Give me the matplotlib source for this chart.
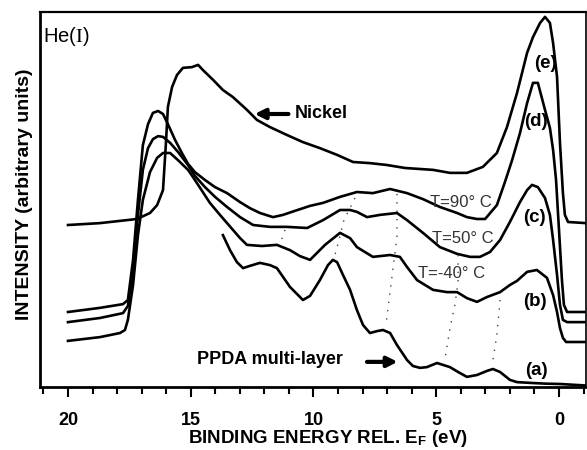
import matplotlib
matplotlib.use("Agg")
import matplotlib.pyplot as plt

plt.rcParams['font.family'] = ['Liberation Sans', 'DejaVu Sans']
plt.rcParams['mathtext.fontset'] = 'stix'

# ---- spectra: binding energy (eV) vs intensity (arbitrary units) ----
nickel_E = [20.0, 18.70, 17.19, 16.66, 16.37, 16.13, 16.01, 15.93, 15.76, 15.56, 15.32,
            14.95, 14.70, 14.50, 14.09, 13.69, 13.28, 12.71, 12.30, 11.77, 11.08, 10.43,
            9.74, 9.04, 8.39, 7.70, 7.01, 6.27, 5.13, 4.44, 3.75, 3.10, 2.53, 2.12, 1.71,
            1.30, 1.06, 0.77, 0.57, 0.37, 0.24, 0.08, -0.04, -0.16, -0.24, -0.37, -1.10]
nickel_I = [43.2, 43.7, 44.8, 46.4, 48.5, 52.5, 65.1, 74.7, 80.0, 83.2, 85.1,
            85.3, 85.9, 84.5, 81.9, 79.2, 77.3, 73.9, 71.2, 69.3, 67.2, 65.3,
            63.7, 61.9, 60.0, 59.7, 59.2, 58.4, 57.9, 57.1, 57.1, 58.7, 62.4, 69.3, 78.4,
            89.1, 93.3, 97.1, 98.7, 97.1, 91.7, 82.7, 65.1, 51.7, 45.9, 44.0, 43.7]

t90_E = [20.0, 18.70, 17.76, 17.56, 17.35, 17.15, 16.95, 16.74, 16.54, 16.33, 16.13,
         15.93, 15.64, 15.36, 15.11, 14.83, 14.42, 14.01, 13.52, 12.99, 12.59, 12.18,
         11.65, 11.24, 10.88, 10.14, 9.61, 8.92, 8.23, 7.58, 6.88, 6.19, 5.54, 4.85,
         4.15, 3.75, 3.34, 3.01, 2.53, 2.20, 1.91, 1.59, 1.30, 1.06, 0.86, 0.57, 0.37,
         0.24, 0.12, 0.00, -0.12, -0.20, -0.33, -1.10]
t90_I = [20.0, 21.1, 22.1, 23.2, 33.9, 49.9, 64.5, 70.1, 73.1, 73.6, 72.8,
         70.1, 65.9, 62.4, 59.5, 57.3, 55.2, 53.3, 51.7, 49.3, 47.7, 46.4,
         45.3, 45.9, 46.7, 48.3, 49.1, 50.7, 52.0, 51.7, 52.8, 51.7, 50.1, 48.0,
         46.4, 45.3, 44.8, 44.8, 48.5, 54.7, 60.5, 67.7, 75.7, 81.1, 81.1, 73.9, 69.1,
         63.2, 55.2, 41.9, 28.5, 21.9, 20.0, 20.0]

t50_E = [20.0, 18.70, 17.76, 17.56, 17.35, 17.15, 16.95, 16.74, 16.54, 16.33, 16.13,
         15.84, 15.52, 15.11, 14.83, 14.42, 14.01, 13.52, 12.99, 12.46, 11.77, 11.08,
         10.26, 9.61, 8.92, 8.51, 8.23, 7.82, 7.29, 6.60, 6.19, 5.54, 4.85, 4.15, 3.62,
         3.22, 2.81, 2.40, 2.00, 1.59, 1.30, 1.10, 0.86, 0.57, 0.37, 0.24, 0.08, -0.04,
         -0.16, -0.33, -1.10]
t50_I = [17.3, 18.4, 19.7, 21.6, 31.2, 45.9, 57.9, 63.7, 66.1, 66.9, 66.7,
         65.1, 62.7, 59.2, 56.3, 53.3, 50.7, 48.0, 45.3, 43.2, 42.7, 42.7,
         42.4, 44.5, 47.2, 47.2, 46.7, 45.3, 45.9, 46.4, 44.5, 41.1, 37.3, 35.5, 34.7,
         34.7, 36.0, 39.2, 44.0, 49.3, 52.5, 53.9, 53.3, 50.4, 45.9, 39.2, 29.9, 21.9,
         17.9, 17.3, 17.3]

tm40_E = [20.0, 18.70, 17.88, 17.68, 17.56, 17.35, 17.15, 16.95, 16.66, 16.37, 16.13,
          15.84, 15.52, 15.11, 14.91, 14.62, 14.22, 13.81, 13.52, 12.99, 12.71, 12.10,
          11.49, 10.96, 10.55, 10.14, 9.53, 8.92, 8.51, 8.23, 7.58, 6.88, 6.48, 6.19,
          5.78, 5.13, 4.56, 4.15, 3.75, 3.34, 2.93, 2.40, 2.00, 1.71, 1.30, 0.90, 0.49,
          0.24, 0.08, -0.04, -0.16, -0.29, -1.10]
tm40_I = [12.3, 13.3, 14.4, 15.2, 17.9, 27.2, 40.5, 49.9, 57.3, 61.1, 62.4,
          62.4, 60.5, 57.9, 56.0, 53.1, 49.1, 45.9, 43.7, 39.7, 37.9, 37.6,
          37.9, 36.5, 34.9, 33.9, 37.9, 41.1, 39.7, 37.3, 34.7, 35.2, 34.7, 32.0,
          28.5, 25.9, 25.3, 25.3, 23.7, 22.7, 24.0, 25.3, 27.2, 28.3, 30.7, 31.2, 29.1,
          24.5, 20.0, 15.7, 13.1, 12.0, 12.0]

multi_E = [13.69, 13.40, 13.12, 12.87, 12.59, 12.18, 11.77, 11.49, 10.96, 10.43, 10.14,
           9.74, 9.41, 9.21, 9.04, 8.80, 8.51, 8.23, 7.98, 7.70, 7.41, 7.17, 6.88, 6.60,
           6.19, 5.95, 5.66, 5.38, 4.97, 4.44, 4.11, 3.75, 3.34, 2.93, 2.69, 2.40, 2.00,
           1.71, 1.18, 0.57, -0.04, -1.10]
multi_I = [40.5, 36.5, 33.3, 31.7, 32.3, 33.1, 32.5, 31.7, 26.7, 23.2, 24.3,
           28.5, 32.5, 33.9, 33.3, 29.9, 25.9, 20.5, 16.5, 14.4, 14.9, 15.2, 14.4, 11.2,
           7.2, 5.6, 5.1, 5.3, 6.4, 5.3, 4.0, 2.7, 3.2, 4.3, 4.8, 4.0, 1.9,
           1.3, 1.1, 0.9, 0.8, 0.4]

# dotted guides following the features from curve to curve
guides = [
    ([8.31, 8.76, 8.96, 9.16], [50.4, 44.5, 39.2, 34.4]),
    ([6.60, 6.60, 6.76, 7.05], [51.5, 40.0, 31.7, 16.5]),
    ([4.11, 4.11, 4.24, 4.44, 4.64], [35.2, 28.0, 21.9, 15.7, 7.7]),
    ([2.40, 2.53, 2.69], [23.2, 13.9, 7.2]),
    ([11.16, 11.36], [41.9, 38.1]),
]

major_ticks = [20, 15, 10, 5, 0]
major_labels = ['20', '15', '10', '5', '0']
minor_ticks = list(range(21, -2, -1))

fig = plt.figure(figsize=(5.87, 4.50), dpi=100)
ax = fig.add_axes([40 / 587, 63 / 450, 546 / 587, 375 / 450])

lw = 1.9
for E, I in [(nickel_E, nickel_I), (t90_E, t90_I), (t50_E, t50_I),
             (tm40_E, tm40_I), (multi_E, multi_I)]:
    ax.plot(E, I, color='black', lw=lw, solid_joinstyle='round')

for gE, gI in guides:
    ax.plot(gE, gI, color='#444444', lw=1.0, linestyle=(0, (1, 5)))

ax.set_xlim(21.14, -1.10)
ax.set_ylim(0, 100)

ax.set_xticks(major_ticks)
ax.set_xticklabels(major_labels)
ax.set_xticks(minor_ticks, minor=True)
ax.set_yticks([])
ax.tick_params(axis='x', which='major', direction='out', length=7, width=1.5,
               pad=11, labelsize=13)
ax.tick_params(axis='x', which='minor', direction='out', length=5, width=1.5)
for lab in ax.get_xticklabels():
    lab.set_fontweight('bold')

ax.spines['left'].set_linewidth(2.0)
ax.spines['bottom'].set_linewidth(2.0)
ax.spines['top'].set_linewidth(1.6)
ax.spines['right'].set_linewidth(1.2)

ax.set_xlabel(r'BINDING ENERGY REL. E$_\mathregular{F}$ (eV)', fontsize=13.5,
              fontweight='bold', va='top')
ax.xaxis.set_label_coords(0.527, -0.110)
ax.set_ylabel('INTENSITY (arbitrary units)', fontsize=14, fontweight='bold')
ax.yaxis.set_label_coords(-0.012, 0.515)

ax.text(0.0055, 0.92, r'He($\mathrm{I}$)', transform=ax.transAxes, fontsize=14.5,
        ha='left', va='baseline')

# curve labels
ax.text(0.57, 86.3, '(e)', fontsize=13.5, fontweight='bold', ha='center', va='center')
ax.text(0.93, 70.7, '(d)', fontsize=13.5, fontweight='bold', ha='center', va='center')
ax.text(0.98, 45.3, '(c)', fontsize=13.5, fontweight='bold', ha='center', va='center')
ax.text(0.98, 22.7, '(b)', fontsize=13.5, fontweight='bold', ha='center', va='center')
ax.text(0.90, 4.3, '(a)', fontsize=13.5, fontweight='bold', ha='center', va='center')

ax.text(5.26, 49.3, 'T=90° C', fontsize=12, color='#333333', ha='left', va='center')
ax.text(5.17, 39.5, 'T=50° C', fontsize=12, color='#333333', ha='left', va='center')
ax.text(5.74, 30.4, 'T=-40° C', fontsize=12, color='#333333', ha='left', va='center')

ax.text(10.75, 72.8, 'Nickel', fontsize=13, fontweight='bold', ha='left', va='center')
ax.annotate('', xy=(12.40, 72.8), xytext=(11.02, 72.8),
            arrowprops=dict(arrowstyle='-|>,head_length=0.6,head_width=0.3',
                            color='black', lw=3, shrinkA=0, shrinkB=0))

ax.text(14.75, 7.2, 'PPDA multi-layer', fontsize=13, fontweight='bold',
        ha='left', va='center')
ax.annotate('', xy=(6.57, 6.7), xytext=(7.82, 6.7),
            arrowprops=dict(arrowstyle='-|>,head_length=0.6,head_width=0.3',
                            color='black', lw=3, shrinkA=0, shrinkB=0))

fig.savefig('out.png', dpi=100)
